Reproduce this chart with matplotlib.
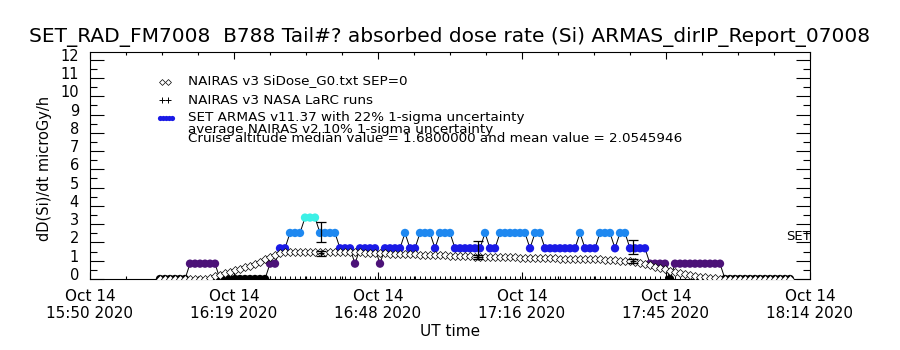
import matplotlib
matplotlib.use('Agg')
import matplotlib.pyplot as plt
import matplotlib.transforms as mtransforms
from matplotlib.ticker import MultipleLocator
import numpy as np

# time axis: minutes after 2020-10-14 15:50 UT, one ARMAS record per minute
minutes = np.arange(14, 141)

# ARMAS absorbed dose rate (Si) [microGy/h], quantised levels
armas_dose = [0, 0, 0, 0, 0, 0,
              0.84, 0.84, 0.84, 0.84, 0.84, 0.84,
              0, 0, 0, 0, 0, 0, 0, 0, 0, 0,
              0.84, 0.84, 1.68, 1.68, 2.52, 2.52, 2.52, 3.36, 3.36, 3.36,
              2.52, 2.52, 2.52, 2.52, 1.68, 1.68, 1.68, 0.84,
              1.68, 1.68, 1.68, 1.68, 0.84, 1.68, 1.68, 1.68, 1.68,
              2.52, 1.68, 1.68, 2.52, 2.52, 2.52, 1.68, 2.52, 2.52, 2.52,
              1.68, 1.68, 1.68, 1.68, 1.68, 1.68, 2.52, 1.68, 1.68,
              2.52, 2.52, 2.52, 2.52, 2.52, 2.52, 1.68, 2.52, 2.52,
              1.68, 1.68, 1.68, 1.68, 1.68, 1.68, 1.68, 2.52, 1.68, 1.68, 1.68,
              2.52, 2.52, 2.52, 1.68, 2.52, 2.52, 1.68, 1.68, 1.68, 1.68,
              0.84, 0.84, 0.84, 0.84, 0,
              0.84, 0.84, 0.84, 0.84, 0.84, 0.84, 0.84, 0.84, 0.84, 0.84,
              0, 0, 0, 0, 0, 0, 0, 0, 0, 0, 0, 0, 0, 0]

# NAIRAS v3 SiDose_G0 along the flight path
nairas_dose = [0, 0, 0, 0, 0, 0, 0, 0, 0,
               0.02, 0.08, 0.15, 0.23, 0.31, 0.39, 0.47, 0.55, 0.63, 0.72,
               0.82, 0.95, 1.08, 1.20, 1.32, 1.41, 1.46,
               1.50, 1.50, 1.50, 1.49, 1.49, 1.49, 1.48, 1.48, 1.48, 1.47, 1.47,
               1.46, 1.46, 1.45, 1.45, 1.44, 1.43, 1.42, 1.41, 1.40, 1.39, 1.38, 1.37,
               1.36, 1.35, 1.35, 1.34, 1.33, 1.32, 1.31, 1.30, 1.29, 1.28, 1.27,
               1.26, 1.25, 1.24, 1.23, 1.22,
               1.21, 1.21, 1.20, 1.20, 1.19, 1.18, 1.18, 1.17, 1.16, 1.16, 1.15,
               1.15, 1.14, 1.13, 1.13, 1.12,
               1.11, 1.11, 1.10, 1.10, 1.09, 1.09, 1.08, 1.07,
               1.06, 1.04, 1.02, 1.00, 0.98, 0.96,
               0.93, 0.90, 0.84, 0.76, 0.68, 0.60, 0.52, 0.45, 0.38, 0.32,
               0.26, 0.21, 0.17, 0.13, 0.10, 0.07, 0.04, 0.02,
               0, 0, 0, 0, 0, 0, 0, 0, 0, 0, 0, 0, 0, 0]

# NASA LaRC comparison points with uncertainty bars
bar_min = [46.2, 77.6, 108.6]
armas_bar = [2.57, 1.65, 1.75]
armas_bar_err = [0.56, 0.45, 0.38]
larc_dose = [1.40, 1.22, 0.97]
larc_err = [0.14, 0.12, 0.11]

tick_min = [0, 28.8, 57.6, 86.4, 115.2, 144]
tick_labels = ['Oct 14\n15:50 2020', 'Oct 14\n16:19 2020', 'Oct 14\n16:48 2020',
               'Oct 14\n17:16 2020', 'Oct 14\n17:45 2020', 'Oct 14\n18:14 2020']

level_colors = {0: 'black', 0.84: '#4c1278', 1.68: '#1a1ae6',
                2.52: '#1e88f0', 3.36: '#3cf0e6'}

title = 'SET_RAD_FM7008  B788 Tail#? absorbed dose rate (Si) ARMAS_dirIP_Report_07008'
legend_lines = ['NAIRAS v3 SiDose_G0.txt SEP=0',
                'NAIRAS v3 NASA LaRC runs',
                'SET ARMAS v11.37 with 22% 1-sigma uncertainty',
                'average NAIRAS v2 10% 1-sigma uncertainty',
                'Cruise altitude median value = 1.6800000 and mean value = 2.0545946']

plt.rcParams['font.family'] = 'DejaVu Sans'
plt.rcParams['axes.linewidth'] = 0.8

fig = plt.figure(figsize=(9, 3.5), dpi=100)
ax = fig.add_axes([0.1, 71 / 350, 0.8, 227 / 350])

# ARMAS: thin black line + dots coloured by level
ax.plot(minutes, armas_dose, color='k', lw=0.7, zorder=2)
ax.plot(minutes, np.zeros(len(minutes)), '+', color='k', ms=5, mew=0.7, zorder=2)
dot_colors = [level_colors[v] for v in armas_dose]
ax.scatter(minutes, armas_dose, c=dot_colors, s=36, linewidths=0, zorder=3)

# NAIRAS diamonds
ax.plot(minutes, nairas_dose, 'D', mfc='white', mec='k', ms=3.8, mew=0.5, zorder=4)

# error bars
ax.errorbar(bar_min, armas_bar, yerr=armas_bar_err, fmt='none', ecolor='k',
            elinewidth=0.9, capsize=3.8, capthick=0.9, zorder=5)
ax.errorbar(bar_min, larc_dose, yerr=larc_err, fmt='+', color='k', ms=5,
            elinewidth=0.9, capsize=3.8, capthick=0.9, zorder=5)

ax.set_xlim(0, 144)
ax.set_ylim(0, 12.42)
ax.set_xticks(tick_min)
ax.set_xticklabels(tick_labels, fontsize=11, linespacing=1.15)
ax.xaxis.set_minor_locator(MultipleLocator(7.2))
ax.set_yticks(range(13))
ax.yaxis.set_minor_locator(MultipleLocator(0.5))
ax.tick_params(which='both', direction='in', top=True, right=True, width=0.8)
ax.tick_params(axis='x', which='major', length=5, pad=7)
ax.tick_params(axis='x', which='minor', length=2.5)
ax.tick_params(axis='y', which='major', length=10, pad=8, labelsize=10.5)
ax.tick_params(axis='y', which='minor', length=5)
shift = mtransforms.ScaledTranslation(0, 5 / 100, fig.dpi_scale_trans)
for lab in ax.get_yticklabels():
    lab.set_transform(lab.get_transform() + shift)

# overlay in pixel coordinates for title, labels and legend
ov = fig.add_axes([0, 0, 1, 1])
ov.set_xlim(0, 900)
ov.set_ylim(350, 0)
ov.axis('off')

ov.text(450, 37, title, ha='center', va='center', fontsize=14.5)
ov.text(45, 168, 'dD(Si)/dt microGy/h', rotation=90, ha='center', va='center', fontsize=10.5)
ov.text(450, 332, 'UT time', ha='center', va='center', fontsize=11)
ov.text(786, 236, 'SET', ha='left', va='center', fontsize=9.5)

ov.plot([162, 168], [82, 82], 'D', mfc='white', mec='k', ms=3, mew=0.5)
ov.plot([162, 168], [100, 100], '+', color='k', ms=5, mew=0.7)
ov.scatter([160, 163, 166, 169, 172], [118] * 5, color='#1a1ae6', s=14, linewidths=0)

text_y = [81, 100, 118, 130, 139]
for ty, txt in zip(text_y, legend_lines):
    ov.text(188, ty, txt, ha='left', va='center', fontsize=9.7)

fig.savefig('out.png', dpi=100)
